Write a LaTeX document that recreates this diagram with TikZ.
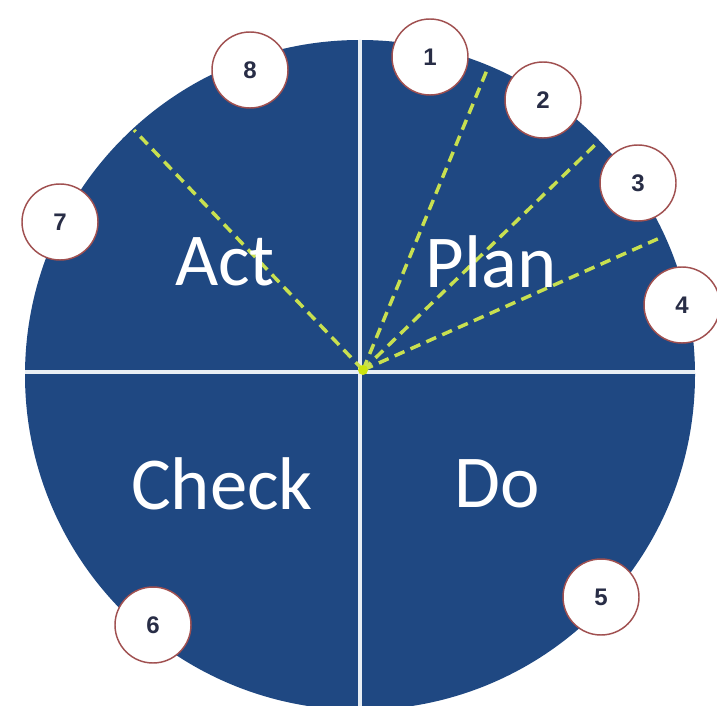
\documentclass[tikz,border=0pt]{standalone}
\usepackage{fontspec}
\setmainfont{Carlito}
\newfontfamily\numfont{Liberation Sans}
\definecolor{pdcablue}{RGB}{31,72,130}
\definecolor{divline}{RGB}{232,238,244}
\definecolor{dashgreen}{RGB}{200,224,80}
\definecolor{ringred}{RGB}{160,80,80}
\definecolor{numblue}{RGB}{40,45,70}
\begin{document}
\begin{tikzpicture}[x=0.75pt,y=-0.75pt,
  quadlabel/.style={text=white,font=\fontsize{56}{60}\selectfont,inner sep=0pt},
  stepnum/.style={circle,draw=ringred,line width=1.1pt,fill=white,minimum size=57pt,inner sep=0pt,
                  text=numblue,font=\numfont\bfseries\fontsize{18}{20}\selectfont},
  divider/.style={draw=divline,line width=3.2pt},
  guide/.style={draw=dashgreen,line width=2.6pt,dash pattern=on 8pt off 5pt}]
\useasboundingbox (0,0) rectangle (717,706);
\begin{scope}
\clip (0,0) rectangle (717,706);
\fill[pdcablue] (360,375) circle[radius=335];
\coordinate (c) at (363,370);
\coordinate (top) at (360,40);
\coordinate (bottom) at (360,706);
\coordinate (left) at (25,372);
\coordinate (right) at (695,372);
\draw[divider] (top) -- (bottom);
\draw[divider] (left) -- (right);
\coordinate (g1) at (487,70);
\coordinate (g2) at (597,143);
\coordinate (g3) at (662,237);
\coordinate (g8) at (134,130);
\draw[guide] (c) -- (g1);
\draw[guide] (c) -- (g2);
\draw[guide] (c) -- (g3);
\draw[guide] (c) -- (g8);
\fill[yellow!80!green] (c) circle[radius=5];
\end{scope}
\node[quadlabel] (act) at (225,262) {Act};
\node[quadlabel] (plan) at (491,262) {Plan};
\node[quadlabel] (check) at (222,484) {Check};
\node[quadlabel] (do) at (497,484) {Do};
\node[stepnum] (n1) at (430,57) {1};
\node[stepnum] (n2) at (543,100) {2};
\node[stepnum] (n3) at (638,183) {3};
\node[stepnum] (n4) at (682,305) {4};
\node[stepnum] (n5) at (601,597) {5};
\node[stepnum] (n6) at (153,625) {6};
\node[stepnum] (n7) at (60,222) {7};
\node[stepnum] (n8) at (250,70) {8};
\end{tikzpicture}
\end{document}
